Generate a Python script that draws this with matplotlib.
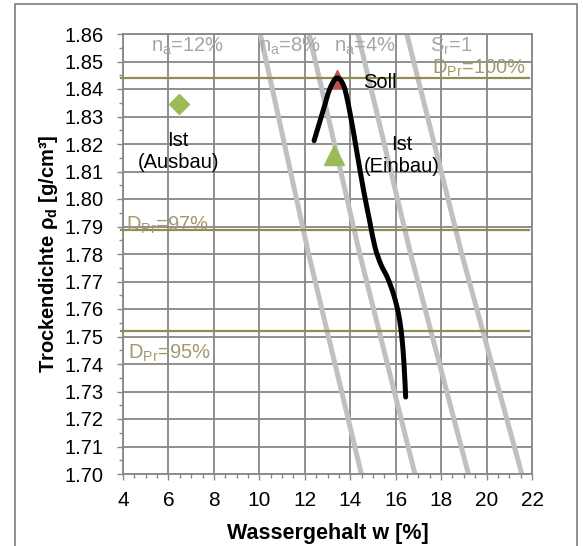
import matplotlib
matplotlib.use("Agg")
import matplotlib.pyplot as plt
from matplotlib.patches import Rectangle, PathPatch
from matplotlib.path import Path
from matplotlib.ticker import MultipleLocator, FormatStrFormatter

plt.rcParams["font.family"] = ["Liberation Sans", "DejaVu Sans"]
plt.rcParams["mathtext.fontset"] = "custom"
plt.rcParams["mathtext.rm"] = "Liberation Sans"
plt.rcParams["mathtext.it"] = "Liberation Sans"
plt.rcParams["mathtext.bf"] = "Liberation Sans:bold"

# Proctor curve (water content [%], dry density [g/cm3])
proctor_w = [12.41, 12.82, 13.10, 13.41, 13.72, 13.99, 14.29, 14.58, 14.85, 15.09,
             15.35, 15.65, 15.92, 16.13, 16.27, 16.37, 16.44]
proctor_rho = [1.8212, 1.8325, 1.8400, 1.8440, 1.8410, 1.8313, 1.8172, 1.8035, 1.7922, 1.7825,
               1.7762, 1.7712, 1.7650, 1.7580, 1.7500, 1.7395, 1.7280]

# Air-void / saturation lines: water content at the listed densities
line_rho = [1.70, 1.78, 1.86]
w_na12 = [14.49, 12.17, 10.04]
w_na8 = [16.85, 14.42, 12.19]
w_na4 = [19.20, 16.66, 14.34]
w_sr1 = [21.55, 18.91, 16.49]

# Proctor density levels
dpr_w = [3.9, 21.85]
dpr_100 = 1.8441
dpr_97 = 1.7888
dpr_95 = 1.7519

# Measured points
soll_w, soll_rho = [13.41], [1.8435]
einbau_w, einbau_rho = [13.3], [1.816]
ausbau_w, ausbau_rho = [6.45], [1.8345]

x_ticks = list(range(4, 23, 2))
y_ticks = [1.70, 1.71, 1.72, 1.73, 1.74, 1.75, 1.76, 1.77, 1.78, 1.79,
           1.80, 1.81, 1.82, 1.83, 1.84, 1.85, 1.86]

GRID = "#878787"
SAT = "#c0c0c0"
OLIVE = "#948a54"
OLIVE_TXT = "#a39a6a"
LABEL_GRAY = "#a6a6a6"


def smooth_path(xs, ys, ax):
    """Smoothed line through the points (Catmull-Rom in display space, as Bezier)."""
    pts = ax.transData.transform(list(zip(xs, ys)))
    verts = [tuple(pts[0])]
    codes = [Path.MOVETO]
    n = len(pts)
    for i in range(n - 1):
        p0 = pts[i - 1] if i > 0 else pts[i]
        p1 = pts[i]
        p2 = pts[i + 1]
        p3 = pts[i + 2] if i + 2 < n else pts[i + 1]
        c1 = p1 + (p2 - p0) / 6.0
        c2 = p2 - (p3 - p1) / 6.0
        verts += [tuple(c1), tuple(c2), tuple(p2)]
        codes += [Path.CURVE4] * 3
    inv = ax.transData.inverted()
    return Path(inv.transform(verts), codes)


fig = plt.figure(figsize=(5.83, 5.46), dpi=100)
ax = fig.add_axes([123 / 583, 1 - 474 / 546, 409 / 583, 440 / 546])

ax.set_xlim(4, 22)
ax.set_ylim(1.70, 1.86)
ax.set_xticks(x_ticks)
ax.set_yticks(y_ticks)
ax.xaxis.set_minor_locator(MultipleLocator(0.5))
ax.yaxis.set_minor_locator(MultipleLocator(0.005))
ax.yaxis.set_major_formatter(FormatStrFormatter("%.2f"))
ax.grid(True, which="major", color=GRID, linewidth=1.3, zorder=0)
ax.set_axisbelow(True)
for s in ax.spines.values():
    s.set_color(GRID)
    s.set_linewidth(1.3)
ax.tick_params(which="major", direction="out", length=4.3, width=1.0, color=GRID,
               labelcolor="black")
ax.tick_params(axis="y", which="major", pad=9.5, labelsize=14.5)
ax.tick_params(axis="x", which="major", pad=8, labelsize=15)
ax.tick_params(which="minor", direction="out", length=3, width=1.0, color=GRID)

for wl in (w_na12, w_na8, w_na4, w_sr1):
    ax.plot(wl, line_rho, color=SAT, linewidth=3.6, solid_capstyle="butt", zorder=2)

for lvl in (dpr_100, dpr_97, dpr_95):
    ax.plot(dpr_w, [lvl, lvl], color=OLIVE, linewidth=1.6, zorder=3, clip_on=False)

ax.plot(soll_w, soll_rho, linestyle="none", marker="^", markersize=12.5,
        color="#c0504d", zorder=3.5)
ax.add_patch(PathPatch(smooth_path(proctor_w, proctor_rho, ax), fill=False,
                       edgecolor="black", linewidth=3.6, capstyle="round",
                       joinstyle="round", zorder=4))
ax.plot(einbau_w, einbau_rho, linestyle="none", marker="^", markersize=14.5,
        color="#9bbb59", zorder=5)
ax.plot(ausbau_w, ausbau_rho, linestyle="none", marker="D", markersize=10,
        color="#9bbb59", zorder=5)

fs = 14.5
ax.text(6.85, 1.8555, r"n$_\mathrm{a}$=12%", color=LABEL_GRAY, fontsize=fs,
        ha="center", va="center", zorder=6)
ax.text(11.35, 1.8555, r"n$_\mathrm{a}$=8%", color=LABEL_GRAY, fontsize=fs,
        ha="center", va="center", zorder=6)
ax.text(14.65, 1.8555, r"n$_\mathrm{a}$=4%", color=LABEL_GRAY, fontsize=fs,
        ha="center", va="center", zorder=6)
ax.text(18.45, 1.8555, r"S$_\mathrm{r}$=1", color=LABEL_GRAY, fontsize=fs,
        ha="center", va="center", zorder=6)
ax.text(17.6, 1.8475, r"D$_\mathrm{Pr}$=100%", color=OLIVE_TXT, fontsize=fs,
        ha="left", va="center", zorder=6)
ax.text(4.15, 1.7905, r"D$_\mathrm{Pr}$=97%", color=OLIVE_TXT, fontsize=fs,
        ha="left", va="center", zorder=6)
ax.text(4.2, 1.7437, r"D$_\mathrm{Pr}$=95%", color=OLIVE_TXT, fontsize=fs,
        ha="left", va="center", zorder=6)
ax.text(14.55, 1.8425, "Soll", color="black", fontsize=fs, ha="left", va="center", zorder=6)
ax.text(6.43, 1.8172, "Ist\n(Ausbau)", color="black", fontsize=fs, ha="center",
        va="center", linespacing=1.2, zorder=6)
ax.text(16.26, 1.8160, "Ist\n(Einbau)", color="black", fontsize=fs, ha="center",
        va="center", linespacing=1.2, zorder=6)

ax.set_xlabel("Wassergehalt w [%]", fontsize=15.5, fontweight="bold")
ax.set_ylabel(r"Trockendichte ρ$_\mathbf{d}$ [g/cm³]", fontsize=14.5, fontweight="bold")
ax.xaxis.set_label_coords(0.5, -0.112)
ax.yaxis.set_label_coords(-0.155, 0.5)

# chart frame
fig.patches.append(Rectangle((15 / 583, -0.02), 562 / 583, 1 - 4 / 546 + 0.02,
                             transform=fig.transFigure, fill=False,
                             edgecolor=GRID, linewidth=1.3, zorder=0))

fig.savefig("out.png", dpi=100)
